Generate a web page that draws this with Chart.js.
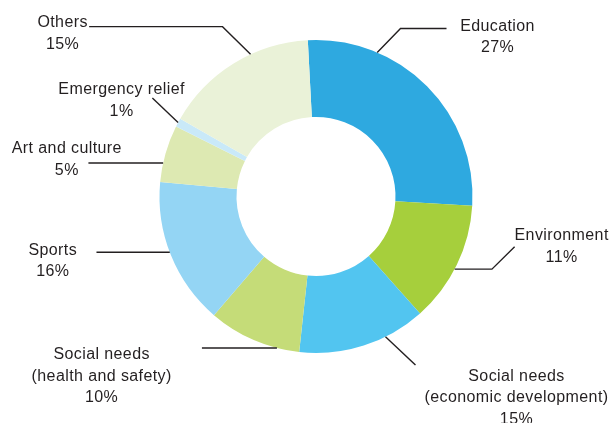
<!DOCTYPE html>
<html>
<head>
<meta charset="utf-8">
<script src="https://cdn.jsdelivr.net/npm/chart.js@4/dist/chart.umd.min.js"></script>
<style>
  html, body { margin: 0; padding: 0; background: #fff; }
  #wrap { width: 613px; height: 423px; }
</style>
</head>
<body>
<div id="wrap"><canvas id="donut" width="613" height="423"></canvas></div>
<script>
// ── Data ─────────────────────────────────────────────────
const categories = [
  ['Education'],
  ['Environment'],
  ['Social needs', '(economic development)'],
  ['Social needs', '(health and safety)'],
  ['Sports'],
  ['Art and culture'],
  ['Emergency relief'],
  ['Others'],
];
// slice sizes as drawn (share of the ring)
const shares = [26.8, 12.5, 13.3, 9.6, 15.2, 5.9, 0.9, 15.9];
// percentages printed next to each label
const pctLabels = ['27%', '11%', '15%', '10%', '16%', '5%', '1%', '15%'];

const colors = ['#2ea9e0', '#a6cf3c', '#52c5f0', '#c5dc78', '#94d5f4', '#dde9b2', '#c9e9f8', '#eaf2d8'];

// ── Leader lines: where on the slice they start, bends and text offsets ──
const leaders = [
  { t: 0.27, path: [[23.3, -24], [69.3, -24]],  text: [120.3, -27.4] },
  { t: 0.54, path: [[37.3, 0], [60, -22.3]],    text: [107, -34.7] },
  { t: 0.32, path: [[30, 28.3]],                text: [131, 38.3] },
  { t: 0.24, path: [[-75, 0]],                  text: [-175.3, 5.6] },
  { t: 0.52, path: [[-73.3, 0]],                text: [-117, -3.3] },
  { t: 0.33, path: [[-74.7, 0]],                text: [-96.3, -15.4] },
  { t: 0.5,  path: [[-25.7, -24.6]],            text: [-56.5, -34] },
  { t: 0.62, path: [[-28, -27.7], [-161.4, -27.7]], text: [-187.9, -32.7] },
];

const FONT = '16px "Liberation Sans", Arial, Helvetica, sans-serif';
const LINE_H = 21.5;

const leaderPlugin = {
  id: 'leaders',
  afterDatasetsDraw(chart) {
    const ctx = chart.ctx;
    const meta = chart.getDatasetMeta(0);
    ctx.save();
    meta.data.forEach((arc, i) => {
      const p = arc.getProps(['x', 'y', 'startAngle', 'endAngle', 'outerRadius'], true);
      const L = leaders[i];
      const a = p.startAngle + L.t * (p.endAngle - p.startAngle);
      const ax = p.x + p.outerRadius * Math.cos(a);
      const ay = p.y + p.outerRadius * Math.sin(a);

      ctx.strokeStyle = '#231f20';
      ctx.lineWidth = 1.4;
      ctx.beginPath();
      ctx.moveTo(ax, ay);
      L.path.forEach(([dx, dy]) => ctx.lineTo(ax + dx, ay + dy));
      ctx.stroke();

      ctx.fillStyle = '#231f20';
      ctx.font = FONT;
      ctx.letterSpacing = '0.4px';
      ctx.textAlign = 'center';
      ctx.textBaseline = 'alphabetic';
      const lines = categories[i].concat(pctLabels[i]);
      lines.forEach((s, k) => {
        ctx.fillText(s, ax + L.text[0], ay + L.text[1] + 5.7 + k * LINE_H);
      });
    });
    ctx.restore();
  },
};

new Chart(document.getElementById('donut'), {
  type: 'doughnut',
  data: {
    labels: categories.map(c => c.join(' ')),
    datasets: [{
      data: shares,
      backgroundColor: colors,
      borderWidth: 0,
      hoverOffset: 0,
      offset: 0,
    }],
  },
  options: {
    responsive: false,
    animation: false,
    rotation: -3,
    radius: 156.5,
    cutout: 79.5,
    layout: { padding: { left: 19, right: 0, top: 40, bottom: 70 } },
    plugins: {
      legend: { display: false },
      tooltip: { enabled: false },
    },
  },
  plugins: [leaderPlugin],
});
</script>
</body>
</html>
